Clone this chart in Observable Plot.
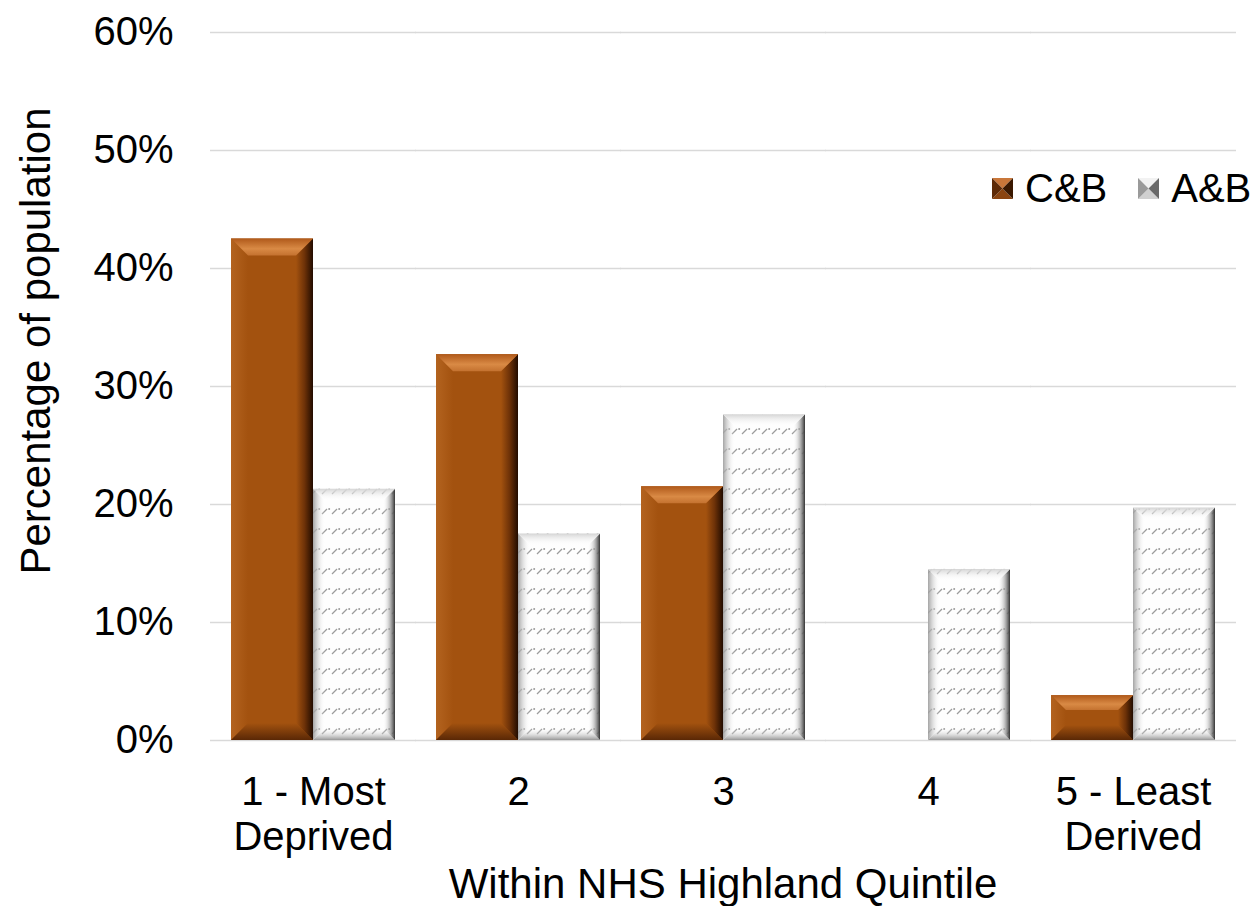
<!DOCTYPE html>
<html>
<head>
<meta charset="utf-8">
<script src="https://cdn.jsdelivr.net/npm/d3@7"></script>
<script src="https://cdn.jsdelivr.net/npm/@observablehq/plot@0.6"></script>
<style>
  body { margin: 0; background: #fff; font-family: "Liberation Sans", Arial, sans-serif; }
  #chart { position: relative; width: 1254px; height: 906px; overflow: hidden; }
  .legend { position: absolute; left: 992px; top: 166px; display: flex; align-items: center; font-size: 40px; color: #000; }
  .legend .item { display: flex; align-items: center; margin-right: 31px; }
  .legend .item:last-child { margin-right: 0; }
  .legend svg { margin-right: 12px; }
  .ytitle { position: absolute; left: 36px; top: 341px; transform: translate(-50%, -50%) rotate(-90deg);
            white-space: nowrap; font-size: 42px; color: #000; line-height: 1; }
  .xtitle { position: absolute; left: 723px; top: 863px; transform: translateX(-50%);
            white-space: nowrap; font-size: 42px; color: #000; line-height: 1; }
</style>
</head>
<body>
<div id="chart"></div>
<script>
// Share of each area's population by NHS Highland deprivation quintile
const quintiles = ["1 - Most\nDeprived", "2", "3", "4", "5 - Least\nDerived"];
const seriesNames = ["C&B", "A&B"];
const cbShare = [0.425, 0.327, 0.215, 0.0, 0.038];
const abShare = [0.213, 0.175, 0.276, 0.145, 0.197];
const yTicks = [0, 0.1, 0.2, 0.3, 0.4, 0.5, 0.6];
const yTitle = "Percentage of population";
const xTitle = "Within NHS Highland Quintile";

const rows = quintiles.flatMap((q, i) => [
  {quintile: q, series: seriesNames[0], value: cbShare[i]},
  {quintile: q, series: seriesNames[1], value: abShare[i]}
]);

const font = "Liberation Sans, Arial, sans-serif";

const chart = Plot.plot({
  width: 1254,
  height: 906,
  marginLeft: 210,
  marginRight: 19,
  marginTop: 32,
  marginBottom: 166,
  style: {fontFamily: font, color: "#000", background: "#fff", overflow: "visible"},
  fx: {domain: quintiles, paddingInner: 0.2, paddingOuter: 0.1},
  x: {domain: seriesNames, padding: 0, axis: null},
  y: {domain: [0, 0.6]},
  marks: [
    // gridlines drawn in each facet and stretched over the gaps so they read as one line
    Plot.ruleY(yTicks, {stroke: "#d9d9d9", strokeWidth: 1.5, insetLeft: -21, insetRight: -21}),
    Plot.barY(rows.filter(d => d.series === "C&B"), {fx: "quintile", x: "series", y: "value", fill: "#A3520F"}),
    Plot.barY(rows.filter(d => d.series === "A&B"), {fx: "quintile", x: "series", y: "value", fill: "url(#abDots)"}),
    Plot.axisY({
      ticks: yTicks, tickFormat: d3.format(".0%"), tickSize: 0, tickPadding: 58, fontSize: 40, label: null
    }),
    Plot.axisFx({
      anchor: "bottom", tickSize: 0, tickPadding: 33, fontSize: 40, lineHeight: 1.12, label: null
    })
  ]
});

const svg = d3.select(chart);

// Gradients and the dotted pattern used to shade the bars
const defs = svg.insert("defs", ":first-child");
function grad(id, vertical, stops) {
  const g = defs.append("linearGradient").attr("id", id)
    .attr("x1", 0).attr("y1", 0).attr("x2", vertical ? 0 : 1).attr("y2", vertical ? 1 : 0);
  stops.forEach(([o, c, a]) => g.append("stop").attr("offset", o).attr("stop-color", c).attr("stop-opacity", a));
}
grad("cbTop", true, [[0, "#b0591a", 1], [0.6, "#d98a45", 1], [1, "#c47230", 1]]);
grad("cbLeft", false, [[0, "#b3631f", 1], [1, "#A3520F", 1]]);
grad("cbRight", false, [[0, "#A3520F", 1], [0.5, "#6e3208", 1], [1, "#220c00", 1]]);
grad("cbBottom", true, [[0, "#A3520F", 1], [1, "#5a2806", 1]]);
grad("abTop", true, [[0, "#d4d4d4", 1], [1, "#ffffff", 0]]);
grad("abLeft", false, [[0, "#9a9a9a", 0.9], [1, "#ffffff", 0]]);
grad("abRight", false, [[0, "#ffffff", 0], [0.55, "#9a9a9a", 0.6], [1, "#333333", 1]]);
grad("abBottom", true, [[0, "#ffffff", 0], [1, "#8a8a8a", 0.9]]);

const pat = defs.append("pattern").attr("id", "abDots").attr("patternUnits", "userSpaceOnUse")
  .attr("width", 10).attr("height", 20);
pat.append("rect").attr("width", 10).attr("height", 20).attr("fill", "#fefefe");
pat.append("line").attr("x1", 1).attr("y1", 14).attr("x2", 6).attr("y2", 9)
  .attr("stroke", "#9c9c9c").attr("stroke-width", 1.3);
pat.append("circle").attr("cx", 8.2).attr("cy", 9).attr("r", 1).attr("fill", "#9c9c9c");

// Bevelled edges drawn over each bar rect
function bevel(parent, x, y, w, h, kind) {
  if (h < 1) return;
  const b = Math.min(kind === "cb" ? 17 : 12, h / 3, w / 3);
  const pre = kind === "cb" ? "cb" : "ab";
  const p = pts => pts.map(q => q.join(",")).join(" ");
  const add = (pts, id) => d3.select(parent).append("polygon").attr("points", p(pts)).attr("fill", `url(#${pre}${id})`);
  add([[x, y], [x + b, y + b], [x + b, y + h - b], [x, y + h]], "Left");
  add([[x, y + h], [x + w, y + h], [x + w - b, y + h - b], [x + b, y + h - b]], "Bottom");
  add([[x + w, y], [x + w, y + h], [x + w - b, y + h - b], [x + w - b, y + b]], "Right");
  add([[x, y], [x + w, y], [x + w - b, y + b], [x + b, y + b]], "Top");
}

svg.selectAll('g[aria-label="bar"]').each(function(_, gi) {
  const kind = gi === 0 ? "cb" : "ab";
  d3.select(this).selectAll("rect").each(function() {
    const r = this;
    const x = +r.getAttribute("x"), y = +r.getAttribute("y");
    const w = +r.getAttribute("width"), h = +r.getAttribute("height");
    bevel(r.parentNode, x, y, w, h, kind);
  });
});

const root = document.getElementById("chart");
root.appendChild(chart);

// Axis titles
const yt = document.createElement("div");
yt.className = "ytitle";
yt.textContent = yTitle;
root.appendChild(yt);
const xt = document.createElement("div");
xt.className = "xtitle";
xt.textContent = xTitle;
root.appendChild(xt);

// Legend
function swatch(kind) {
  const c = kind === "cb"
    ? {top: "#c9773a", bottom: "#8a4410", left: "#5e2a06", right: "#3a1800"}
    : {top: "#f2f2f2", bottom: "#d0d0d0", left: "#9a9a9a", right: "#6a6a6a"};
  return `<svg width="21" height="21" viewBox="0 0 21 21">
    <polygon points="0,0 21,0 10.5,10.5" fill="${c.top}"/>
    <polygon points="0,21 21,21 10.5,10.5" fill="${c.bottom}"/>
    <polygon points="0,0 0,21 10.5,10.5" fill="${c.left}"/>
    <polygon points="21,0 21,21 10.5,10.5" fill="${c.right}"/>
  </svg>`;
}
const legend = document.createElement("div");
legend.className = "legend";
legend.innerHTML = seriesNames.map((s, i) =>
  `<div class="item">${swatch(i === 0 ? "cb" : "ab")}<span>${s.replace("&", "&amp;")}</span></div>`).join("");
root.appendChild(legend);
</script>
</body>
</html>
